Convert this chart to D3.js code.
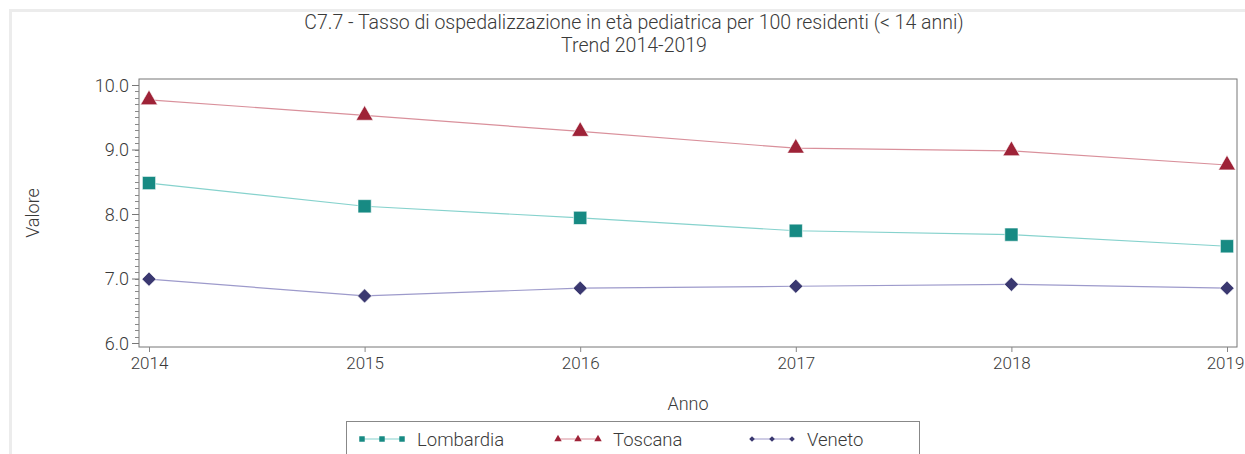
<!DOCTYPE html>
<html><head><meta charset="utf-8">
<script src="https://cdn.jsdelivr.net/npm/d3@7"></script>
<style>
html,body{margin:0;padding:0;background:#fff;}
svg text{font-family:"Roboto","DejaVu Sans Condensed",sans-serif;fill:#3a3a3a;font-weight:300;}
</style></head>
<body>
<svg id="chart" width="1245" height="454"></svg>
<script>
const years = [2014, 2015, 2016, 2017, 2018, 2019];
const lombardia = [8.48, 8.12, 7.94, 7.74, 7.68, 7.50];
const toscana = [9.77, 9.53, 9.28, 9.02, 8.98, 8.76];
const veneto = [6.99, 6.73, 6.85, 6.88, 6.91, 6.85];
const yTicks = [6.0, 7.0, 8.0, 9.0, 10.0];
const seriesNames = ["Lombardia", "Toscana", "Veneto"];
const titleLines = ["C7.7 - Tasso di ospedalizzazione in età pediatrica per 100 residenti (< 14 anni)", "Trend 2014-2019"];

const diamond = {draw(ctx, size) { const r = Math.sqrt(size / 2); ctx.moveTo(0, -r); ctx.lineTo(r, 0); ctx.lineTo(0, r); ctx.lineTo(-r, 0); ctx.closePath(); }};

const series = [
  {name: "Lombardia", values: lombardia, line: "#86d2cd", marker: "#178a83", shape: d3.symbolSquare, size: 175, lsize: 30},
  {name: "Toscana", values: toscana, line: "#d9909b", marker: "#9e2237", shape: d3.symbolTriangle, size: 125, lsize: 24},
  {name: "Veneto", values: veneto, line: "#9d9acb", marker: "#3a3870", shape: diamond, size: 100, lsize: 16}
];

const svg = d3.select("#chart");
// outer frame
svg.append("rect").attr("x", 9).attr("y", 9).attr("width", 1236).attr("height", 3).attr("fill", "#ececec");
svg.append("rect").attr("x", 9).attr("y", 9).attr("width", 3).attr("height", 445).attr("fill", "#ececec");

const L = 139, R = 1237, T = 79, B = 347;
const x = d3.scalePoint().domain(years).range([149, 1227]);
const y = d3.scaleLinear().domain([6, 10]).range([343, 85]);

const FS = 17;
// title
svg.selectAll("text.title").data(titleLines).join("text")
  .attr("class", "title").attr("x", 634).attr("y", (d, i) => 29 + i * 23)
  .attr("text-anchor", "middle").attr("font-size", 19.5).text(d => d);

// plot frame
svg.append("rect").attr("x", L).attr("y", T).attr("width", R - L).attr("height", B - T)
  .attr("fill", "none").attr("stroke", "#777").attr("stroke-width", 1);

// y axis with minor ticks
const minor = d3.range(60, 101).map(v => v / 10);
svg.append("g").selectAll("line").data(minor).join("line")
  .attr("x1", L - 4).attr("x2", L).attr("y1", d => Math.round(y(d)) + 0.5).attr("y2", d => Math.round(y(d)) + 0.5)
  .attr("stroke", "#888").attr("stroke-width", 1);
const yAxis = svg.append("g").attr("transform", `translate(${L},0)`)
  .call(d3.axisLeft(y).tickValues(yTicks).tickFormat(d3.format(".1f")).tickSize(7).tickPadding(3));
yAxis.select(".domain").remove();
yAxis.selectAll("line").attr("stroke", "#777");
yAxis.selectAll("text").attr("font-size", 18).attr("fill", "#3a3a3a").attr("dy", "0.36em");

// x axis
const xAxis = svg.append("g").attr("transform", `translate(0,${B})`)
  .call(d3.axisBottom(x).tickSize(5).tickPadding(5).tickFormat(d3.format("d")));
xAxis.select(".domain").remove();
xAxis.selectAll("line").attr("stroke", "#888");
xAxis.selectAll("text").attr("font-size", FS).attr("fill", "#3a3a3a")
  .attr("dx", d => d === years[years.length - 1] ? -2 : 0);

// axis titles
svg.append("text").attr("x", 688).attr("y", 410).attr("text-anchor", "middle").attr("font-size", 18).text("Anno");
svg.append("text").attr("transform", "translate(39,213) rotate(-90)").attr("text-anchor", "middle").attr("font-size", 18).text("Valore");

// lines & markers
const line = d3.line().x((d, i) => x(years[i])).y(d => y(d));
series.forEach(s => {
  svg.append("path").attr("d", line(s.values)).attr("fill", "none").attr("stroke", s.line).attr("stroke-width", 1.2);
  svg.append("g").selectAll("path").data(s.values).join("path")
    .attr("transform", (d, i) => `translate(${x(years[i])},${y(d)})`)
    .attr("d", d3.symbol().type(s.shape).size(s.size)).attr("fill", s.marker)
    .attr("stroke", "#fff").attr("stroke-width", 0.6);
});

// legend
svg.append("rect").attr("x", 346.5).attr("y", 421.5).attr("width", 573).attr("height", 40)
  .attr("fill", "none").attr("stroke", "#888");
const legX = [360, 556, 750];
series.forEach((s, k) => {
  const g = svg.append("g").attr("transform", `translate(${legX[k]},439)`);
  g.append("line").attr("x1", 0).attr("x2", 44).attr("stroke", s.line).attr("stroke-width", 1.2);
  [2, 22, 42].forEach(px => g.append("path").attr("transform", `translate(${px},0)`)
    .attr("d", d3.symbol().type(s.shape).size(s.lsize)).attr("fill", s.marker));
  g.append("text").attr("x", 57).attr("y", 0).attr("dy", "0.36em").attr("font-size", 18.5).text(s.name);
});
</script>
</body></html>
